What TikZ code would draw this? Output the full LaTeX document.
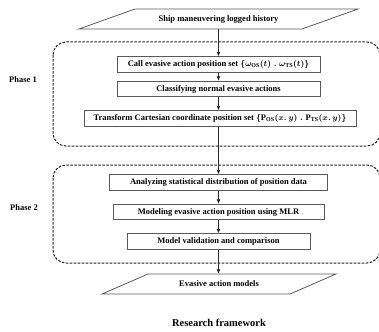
\documentclass[tikz,border=0pt]{standalone}
\usepackage{fontspec}
\setmainfont{Liberation Serif}
\usetikzlibrary{arrows.meta}
\definecolor{boxgray}{HTML}{5A5A5A}
\definecolor{linegray}{HTML}{2A2A2A}
\tikzset{
  txt/.style={font=\bfseries\fontsize{8.5}{10}\selectfont\boldmath, text=black},
  procbox/.style={txt, draw=boxgray, line width=0.8pt, inner sep=0pt, minimum height=15.5pt, fill=white},
  ionode/.style={txt, inner sep=0pt, minimum height=20pt, minimum width=20pt},
  iopath/.style={draw=boxgray, line width=0.8pt},
  phasebox/.style={draw=black!85, line width=1pt, dash pattern=on 2.6pt off 1.4pt, rounded corners=13pt},
  flow/.style={draw=linegray, line width=0.75pt, -{Latex[length=4.5pt,width=4pt]}},
  phaselabel/.style={font=\bfseries\fontsize{8.5}{10}\selectfont},
}
\begin{document}
\begin{tikzpicture}[x=1pt,y=-1pt]
\useasboundingbox (0,0) rectangle (379,331);

% phase containers
\draw[phasebox] (53,42) rectangle (380,146);
\draw[phasebox] (53,165) rectangle (380,263);

\node[phaselabel] (ph1) at (23,80) {Phase 1};
\node[phaselabel] (ph2) at (24,208) {Phase 2};

% input parallelogram
\draw[iopath] (79,29) -- (135,9) -- (358,9) -- (302,29) -- cycle;
\node[ionode] (top) at (218.5,19) {Ship maneuvering logged history};

\node[procbox, minimum width=203pt] (b1) at (218.5,64.5)
  {Call evasive action position set $\{\omega_{\mathrm{OS}}(t)\;.\;\omega_{\mathrm{TS}}(t)\}$};
\node[procbox, minimum width=203pt] (b2) at (218.5,89)
  {Classifying normal evasive actions};
\node[procbox, minimum width=272pt] (b3) at (220,118.5)
  {Transform Cartesian coordinate position set $\{\mathrm{P}_{\mathrm{OS}}(x.\,y)\;.\;\mathrm{P}_{\mathrm{TS}}(x.\,y)\}$};

\node[procbox, minimum width=218pt] (b4) at (218.5,182.5)
  {Analyzing statistical distribution of position data};
\node[procbox, minimum width=211pt] (b5) at (218.5,212)
  {Modeling evasive action position using MLR};
\node[procbox, minimum width=183pt] (b6) at (218.5,241.5)
  {Model validation and comparison};

% output parallelogram
\draw[iopath] (102,294) -- (148,274) -- (336,274) -- (290,294) -- cycle;
\node[ionode] (bot) at (219,284) {Evasive action models};

\node[font=\bfseries\fontsize{10.5}{12}\selectfont] (title) at (219,323) {Research framework};

% connectors
\draw[flow] (top.south) -- (top.south |- b1.north);
\draw[flow] (b1.south) -- (b2.north);
\draw[flow] (b2.south) -- (b2.south |- b3.north);
\draw[flow] (b3.south -| b4.north) -- (b4.north);
\draw[flow] (b4.south) -- (b5.north);
\draw[flow] (b5.south) -- (b6.north);
\draw[flow] (b6.south) -- (b6.south |- bot.north);
\end{tikzpicture}
\end{document}
